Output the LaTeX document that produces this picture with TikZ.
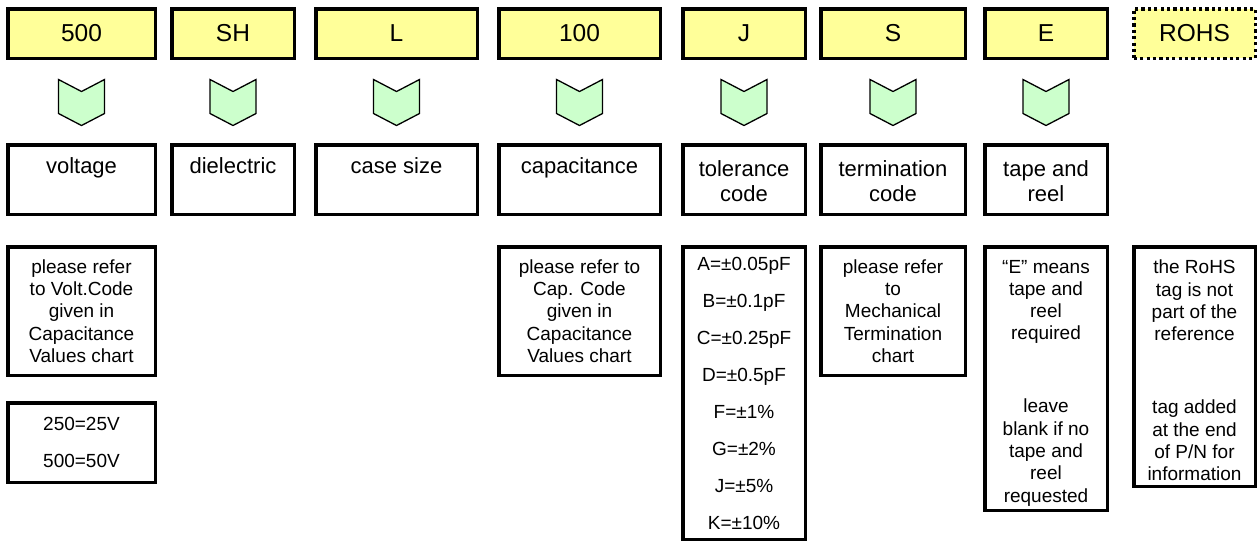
\documentclass[tikz,border=0pt]{standalone}
\usepackage{fontspec}
\setmainfont{Liberation Sans}
\usetikzlibrary{calc}
\definecolor{codeyellow}{HTML}{FFFF99}
\definecolor{chevgreen}{HTML}{CCFFCC}
\tikzset{
  codebox/.style={draw, line width=3.5pt, fill=codeyellow, minimum height=49.5pt, inner sep=0pt,
    font=\fontsize{24.5}{28}\selectfont},
  optbox/.style={codebox, dash pattern=on 3.2pt off 3.2pt},
  namebox/.style={draw, line width=3.5pt, fill=white, minimum height=69.5pt, inner sep=0pt},
  nametext/.style={anchor=base, align=center, inner sep=0pt, font=\fontsize{22}{24.7}\selectfont},
  descbox/.style={draw, line width=3.5pt, fill=white, inner sep=0pt, align=center,
    font=\fontsize{19}{22.3}\selectfont},
  desctext/.style={inner sep=0pt, align=center, font=\fontsize{19}{22.3}\selectfont},
  listbox/.style={descbox, font=\fontsize{19}{37}\selectfont},
  chev/.pic={\path[draw=black, line width=1.3pt, line join=miter, fill=chevgreen]
    (-23,0) -- (0,12) -- (23,0) -- (23,34) -- (0,46) -- (-23,34) -- cycle;}
}
\begin{document}
\begin{tikzpicture}[x=1pt, y=-1pt]
\useasboundingbox (0,0) rectangle (1259,542);
% top code boxes
\node[codebox, minimum width=147.5pt] (t1) at (81.5,33.5) {500};
\node[codebox, minimum width=122.5pt] (t2) at (233,33.5) {SH};
\node[codebox, minimum width=161.5pt] (t3) at (396.5,33.5) {L};
\node[codebox, minimum width=161.5pt] (t4) at (579.5,33.5) {100};
\node[codebox, minimum width=122.5pt] (t5) at (744,33.5) {J};
\node[codebox, minimum width=144.5pt] (t6) at (893,33.5) {S};
\node[codebox, minimum width=122.5pt] (t7) at (1046,33.5) {E};
\node[optbox, minimum width=121.5pt] (t8) at (1194.5,33.5) {ROHS};
% chevrons
\foreach \t in {t1,t2,t3,t4,t5,t6,t7}
  \pic at ($(\t.south)+(0,19.5)$) {chev};
% name boxes
\node[namebox, minimum width=147.5pt] (n1) at (81.5,179.5) {};
\node[namebox, minimum width=122.5pt] (n2) at (233,179.5) {};
\node[namebox, minimum width=161.5pt] (n3) at (396.5,179.5) {};
\node[namebox, minimum width=161.5pt] (n4) at (579.5,179.5) {};
\node[namebox, minimum width=122.5pt] (n5) at (744,179.5) {};
\node[namebox, minimum width=144.5pt] (n6) at (893,179.5) {};
\node[namebox, minimum width=122.5pt] (n7) at (1046,179.5) {};
\node[nametext] (l1) at ($(n1.north)+(0,30)$) {voltage};
\node[nametext] (l2) at ($(n2.north)+(0,30)$) {dielectric};
\node[nametext] (l3) at ($(n3.north)+(0,30)$) {case size};
\node[nametext] (l4) at ($(n4.north)+(0,30)$) {capacitance};
\node[nametext] (l5) at ($(n5.north)+(0,58.5)$) {tolerance\\code};
\node[nametext] (l6) at ($(n6.north)+(0,58.5)$) {termination\\code};
\node[nametext] (l7) at ($(n7.north)+(0,58.5)$) {tape and\\reel};
% description boxes
\node[descbox, minimum width=147.5pt, minimum height=128.5pt] (d1) at (81.5,311)
  {please refer\\to Volt.Code\\given in\\Capacitance\\Values chart};
\node[listbox, minimum width=147.5pt, minimum height=79.5pt] (d1b) at (81.5,442.5)
  {250=25V\\500=50V};
\node[descbox, minimum width=161.5pt, minimum height=128.5pt] (d4) at (579.5,311)
  {please refer to\\Cap. Code\\given in\\Capacitance\\Values chart};
\node[listbox, minimum width=122.5pt, minimum height=292.5pt] (d5) at (744,393)
  {A=±0.05pF\\B=±0.1pF\\C=±0.25pF\\D=±0.5pF\\F=±1\%\\G=±2\%\\J=±5\%\\K=±10\%};
\node[descbox, minimum width=144.5pt, minimum height=128.5pt] (d6) at (893,311)
  {please refer\\to\\Mechanical\\Termination\\chart};
\node[descbox, minimum width=122.5pt, minimum height=263.5pt] (d7) at (1046,378.5) {};
\node[desctext] (d7t) at ($(d7.center)+(0,4.5)$)
  {“E” means\\tape and\\reel\\required\\[50.7pt]leave\\blank if no\\tape and\\reel\\requested};
\node[descbox, minimum width=121.5pt, minimum height=239.5pt] (d8) at (1194.5,366.5) {};
\node[desctext] (d8t) at ($(d8.center)+(0,4)$)
  {the RoHS\\tag is not\\part of the\\reference\\[50.7pt]tag added\\at the end\\of P/N for\\information};
\end{tikzpicture}
\end{document}
